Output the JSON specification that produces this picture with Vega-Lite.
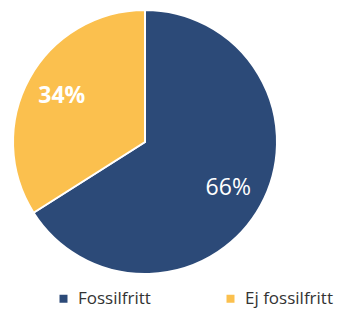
{
  "$schema": "https://vega.github.io/schema/vega-lite/v6.json",
  "width": 264,
  "height": 264,
  "padding": {"left": 13, "top": 10, "right": 66, "bottom": 35},
  "autosize": "none",
  "background": "white",
  "config": {"view": {"stroke": null}, "font": "Open Sans"},
  "data": {
    "values": [
      {"cat": "Fossilfritt", "value": 66, "label": "66%", "ord": 1},
      {"cat": "Ej fossilfritt", "value": 34, "label": "34%", "ord": 2}
    ]
  },
  "encoding": {
    "theta": {"field": "value", "type": "quantitative", "stack": true},
    "order": {"field": "ord", "type": "quantitative"}
  },
  "layer": [
    {
      "mark": {"type": "arc", "stroke": "white", "strokeWidth": 2},
      "encoding": {
        "color": {
          "field": "cat",
          "type": "nominal",
          "scale": {"domain": ["Fossilfritt", "Ej fossilfritt"], "range": ["#2c4a78", "#fbc04e"]},
          "legend": {
            "orient": "none",
            "legendX": 42,
            "legendY": 280,
            "direction": "horizontal",
            "title": null,
            "symbolType": "square",
            "symbolSize": 64,
            "symbolStrokeWidth": 0,
            "labelFontSize": 17,
            "labelColor": "#333333",
            "labelFont": "Open Sans",
            "columnPadding": 71,
            "symbolOffset": 0,
            "labelOffset": 6
          }
        }
      }
    },
    {
      "mark": {"type": "text", "radius": 95, "color": "white", "fontSize": 23, "font": "Open Sans"},
      "encoding": {
        "text": {"field": "label"},
        "opacity": {
          "condition": {"test": "datum.cat === 'Fossilfritt'", "value": 1},
          "value": 0
        }
      }
    },
    {
      "mark": {"type": "text", "radius": 95, "color": "white", "fontSize": 23, "fontWeight": "bold", "font": "Open Sans"},
      "encoding": {
        "text": {"field": "label"},
        "opacity": {
          "condition": {"test": "datum.cat === 'Ej fossilfritt'", "value": 1},
          "value": 0
        }
      }
    }
  ]
}
